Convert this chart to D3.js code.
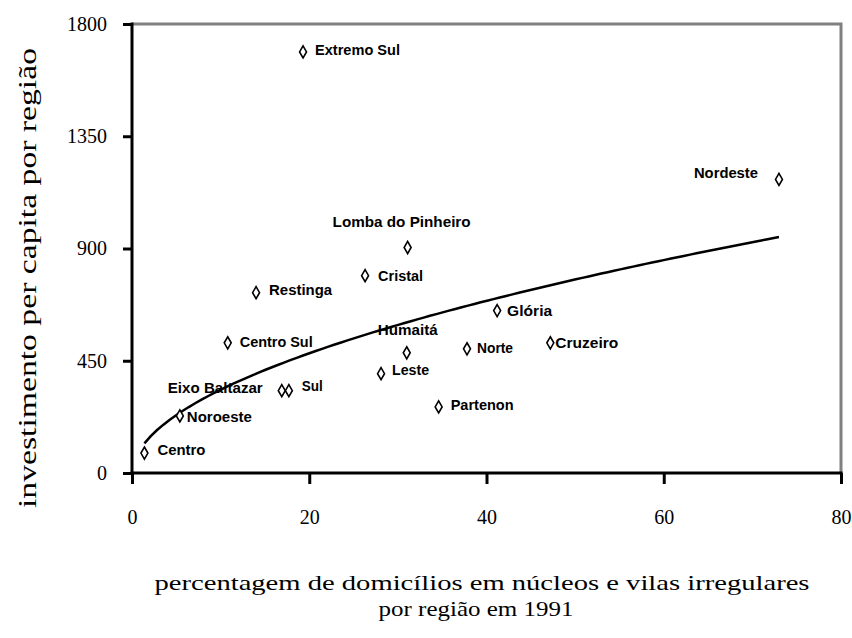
<!DOCTYPE html>
<html>
<head>
<meta charset="utf-8">
<script src="https://cdn.jsdelivr.net/npm/d3@7"></script>
<style>
  body { margin: 0; background: #fff; }
  svg { display: block; }
</style>
</head>
<body>
<svg width="852" height="638"></svg>
<script>
// regiões e valores
var regions = ["Centro", "Noroeste", "Centro Sul", "Restinga", "Eixo Baltazar", "Sul",
    "Extremo Sul", "Cristal", "Leste", "Humaitá", "Lomba do Pinheiro", "Partenon",
    "Norte", "Glória", "Cruzeiro", "Nordeste"];
var pctIrregular = [1.4, 5.4, 10.8, 14.0, 16.9, 17.7, 19.3, 26.3, 28.1, 31.0, 31.1, 34.6,
    37.8, 41.2, 47.2, 73.0];
var investPerCapita = [80, 229, 522, 723, 330, 330, 1688, 791, 398, 482, 904, 265,
    498, 651, 522, 1177];
var xTicks = [0, 20, 40, 60, 80];
var yTicks = [0, 450, 900, 1350, 1800];

// deslocamento dos rótulos (px) em relação ao marcador
var labelOffsets = {
    "Centro": [13, -3.5], "Noroeste": [7, 1], "Centro Sul": [12, -1], "Restinga": [13, -3],
    "Eixo Baltazar": [-114, -2.5], "Sul": [13, -5], "Extremo Sul": [12, -1.5],
    "Cristal": [13, 0], "Leste": [11, -4], "Humaitá": [-29, -23],
    "Lomba do Pinheiro": [-75, -26], "Partenon": [12, -2], "Norte": [10, -1],
    "Glória": [10, 0], "Cruzeiro": [5, 0], "Nordeste": [-85, -6.5]
};
var labelWidths = {
    "Centro": 48, "Noroeste": 65, "Centro Sul": 73, "Restinga": 63, "Eixo Baltazar": 95,
    "Sul": 21, "Extremo Sul": 85, "Cristal": 45, "Leste": 37, "Humaitá": 60,
    "Lomba do Pinheiro": 138, "Partenon": 63, "Norte": 36, "Glória": 45,
    "Cruzeiro": 63, "Nordeste": 64
};

var points = regions.map(function (r, i) {
    return { name: r, x: pctIrregular[i], y: investPerCapita[i] };
});

var plotLeft = 132, plotRight = 841, plotTop = 24, plotBottom = 473;

var x = d3.scaleLinear().domain([0, 80]).range([plotLeft, plotRight]);
var y = d3.scaleLinear().domain([0, 1800]).range([plotBottom, plotTop]);

var svg = d3.select("svg");

// linha de tendência de potência (mínimos quadrados em log-log, como no Excel)
var lx = points.map(function (d) { return Math.log(d.x); });
var ly = points.map(function (d) { return Math.log(d.y); });
var mx = d3.mean(lx), my = d3.mean(ly);
var b = d3.sum(lx, function (v, i) { return (v - mx) * (ly[i] - my); }) /
        d3.sum(lx, function (v) { return (v - mx) * (v - mx); });
var a = Math.exp(my - b * mx);
var xMin = d3.min(pctIrregular), xMax = d3.max(pctIrregular);
var trend = d3.range(0, 101).map(function (k) {
    var xv = xMin + (xMax - xMin) * k / 100;
    return [xv, a * Math.pow(xv, b)];
});

// moldura cinza (topo e direita)
svg.append("path")
    .attr("d", "M" + plotLeft + "," + plotTop + "H" + plotRight + "V" + plotBottom)
    .attr("fill", "none")
    .attr("stroke", "#808080")
    .attr("stroke-width", 3);

svg.append("path")
    .datum(trend)
    .attr("fill", "none")
    .attr("stroke", "#000")
    .attr("stroke-width", 2.5)
    .attr("d", d3.line()
        .x(function (d) { return x(d[0]); })
        .y(function (d) { return y(d[1]); }));

// eixos
var xAxis = svg.append("g")
    .attr("transform", "translate(0," + plotBottom + ")")
    .call(d3.axisBottom(x).tickValues(xTicks).tickFormat(d3.format("d")).tickSize(11).tickPadding(26));
var yAxis = svg.append("g")
    .attr("transform", "translate(" + plotLeft + ",0)")
    .call(d3.axisLeft(y).tickValues(yTicks).tickFormat(d3.format("d")).tickSize(9).tickPadding(16));

xAxis.select(".domain")
    .attr("d", "M" + (plotLeft - 1.5) + ",0H" + (plotRight + 1.5));
yAxis.select(".domain")
    .attr("d", "M0," + (plotBottom + 1.5) + "V" + (plotTop - 1.5));

[xAxis, yAxis].forEach(function (g) {
    g.select(".domain").attr("stroke-width", 3);
    g.selectAll(".tick line").attr("stroke-width", 3);
    g.selectAll(".tick text")
        .attr("font-family", "'Liberation Serif', 'Times New Roman', serif")
        .attr("font-size", 20)
        .attr("fill", "#000");
});

// marcadores
svg.append("g")
    .selectAll("path")
    .data(points)
    .enter()
    .append("path")
    .attr("transform", function (d) { return "translate(" + x(d.x) + "," + y(d.y) + ")"; })
    .attr("d", d3.symbol().type(d3.symbolDiamond).size(42))
    .attr("fill", "#fff")
    .attr("stroke", "#000")
    .attr("stroke-width", 1.6);

// rótulos
svg.append("g")
    .selectAll("text")
    .data(points)
    .enter()
    .append("text")
    .attr("x", function (d) { return x(d.x) + labelOffsets[d.name][0]; })
    .attr("y", function (d) { return y(d.y) + labelOffsets[d.name][1] + 5; })
    .attr("textLength", function (d) { return labelWidths[d.name]; })
    .attr("lengthAdjust", "spacingAndGlyphs")
    .attr("font-family", "'Liberation Sans', Arial, sans-serif")
    .attr("font-weight", "bold")
    .attr("font-size", 14)
    .text(function (d) { return d.name; });

// títulos dos eixos
svg.append("text")
    .attr("transform", "translate(36,278) rotate(-90)")
    .attr("text-anchor", "middle")
    .attr("textLength", 460)
    .attr("lengthAdjust", "spacingAndGlyphs")
    .attr("font-family", "'Liberation Serif', 'Times New Roman', serif")
    .attr("font-size", 25)
    .text("investimento per capita por região");

svg.append("text")
    .attr("x", 482).attr("y", 590)
    .attr("text-anchor", "middle")
    .attr("textLength", 655).attr("lengthAdjust", "spacingAndGlyphs")
    .attr("font-family", "'Liberation Serif', 'Times New Roman', serif")
    .attr("font-size", 22)
    .text("percentagem de domicílios em núcleos e vilas irregulares");
svg.append("text")
    .attr("x", 476).attr("y", 616)
    .attr("text-anchor", "middle")
    .attr("textLength", 195).attr("lengthAdjust", "spacingAndGlyphs")
    .attr("font-family", "'Liberation Serif', 'Times New Roman', serif")
    .attr("font-size", 22)
    .text("por região em 1991");
</script>
</body>
</html>
